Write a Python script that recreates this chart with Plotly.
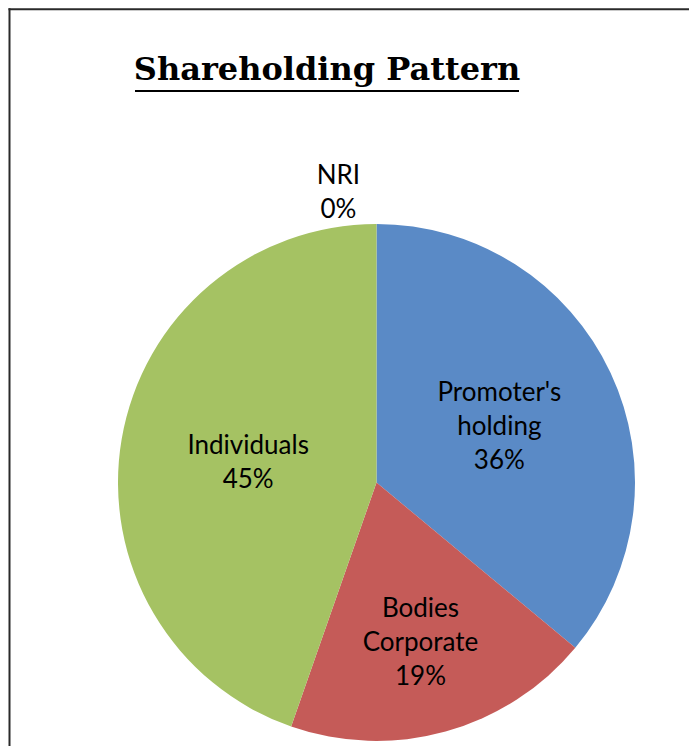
import plotly.graph_objects as go

categories = ["Promoter's<br>holding", "Bodies<br>Corporate", "Individuals", "NRI"]
values = [36.0, 19.3, 44.6, 0]
colors = ["#5A8AC6", "#C55B58", "#A5C263", "#8064A2"]
text_positions = ["inside", "inside", "inside", "outside"]
title_text = "Shareholding Pattern"

OFF = 8  # page body margin
W, H = 697 - OFF, 746 - OFF
L, R, T, B = 109, 61, 216, 5
pw, ph = W - L - R, H - T - B

def px_x(px):
    return (px - OFF - L) / pw

def px_y(py):
    return (H - B - (py - OFF)) / ph

fig = go.Figure(go.Pie(
    labels=categories,
    values=values,
    sort=False,
    direction="clockwise",
    rotation=0,
    marker=dict(colors=colors, line=dict(width=0)),
    textposition=text_positions,
    insidetextorientation="horizontal",
    texttemplate="%{label}<br>%{percent:.0%}",
    textfont=dict(family="Lato, Open Sans, sans-serif", size=26, color="#000000"),
    showlegend=False,
    hoverinfo="label+percent",
))

frame = dict(color="#2a2a2a", width=2)
fig.update_layout(
    width=W, height=H,
    margin=dict(l=L, r=R, t=T, b=B),
    paper_bgcolor="white",
    plot_bgcolor="white",
    title=dict(
        text="<b>" + title_text + "</b>",
        x=(327 - OFF) / W, xanchor="center", xref="container",
        y=1 - (69 - OFF) / H, yanchor="middle", yref="container",
        font=dict(family="DejaVu Serif, Liberation Serif, serif", size=32, color="#000000"),
    ),
    shapes=[
        dict(type="line", xref="paper", yref="paper",
             x0=px_x(9.5), x1=px_x(9.5), y0=px_y(760), y1=px_y(8.2), line=frame),
        dict(type="line", xref="paper", yref="paper",
             x0=px_x(8.5), x1=px_x(720), y0=px_y(9.2), y1=px_y(9.2), line=frame),
        dict(type="line", xref="paper", yref="paper",
             x0=px_x(135), x1=px_x(519), y0=px_y(91), y1=px_y(91),
             line=dict(color="#000000", width=2)),
    ],
)

fig.write_html("out.html")
